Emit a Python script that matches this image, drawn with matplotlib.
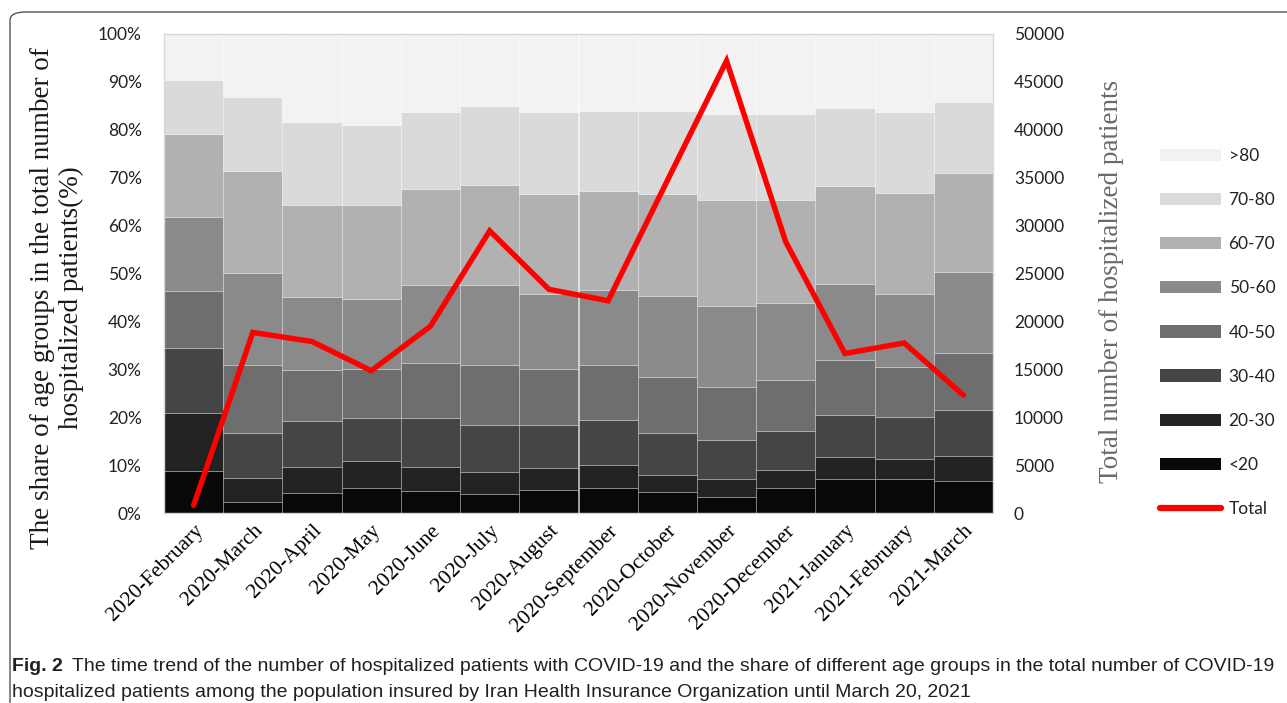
import matplotlib
matplotlib.use("Agg")
import matplotlib.pyplot as plt
import numpy as np
from matplotlib.lines import Line2D
from matplotlib.patches import FancyBboxPatch, Patch

# Data
months = [
    "2020-February", "2020-March", "2020-April", "2020-May", "2020-June",
    "2020-July", "2020-August", "2020-September", "2020-October",
    "2020-November", "2020-December", "2021-January", "2021-February",
    "2021-March",
]
age_groups = ["<20", "20-30", "30-40", "40-50", "50-60", "60-70", "70-80", ">80"]

share_lt20 = [8.8, 2.4, 4.1, 5.3, 4.5, 4.0, 4.7, 5.3, 4.3, 3.4, 5.3, 7.0, 7.0, 6.7]
share_20_30 = [12.1, 4.9, 5.5, 5.6, 5.2, 4.6, 4.7, 4.8, 3.7, 3.6, 3.7, 4.6, 4.3, 5.1]
share_30_40 = [13.6, 9.5, 9.7, 9.0, 10.2, 9.8, 9.0, 9.3, 8.8, 8.2, 8.2, 8.8, 8.7, 9.6]
share_40_50 = [11.9, 14.0, 10.6, 10.2, 11.4, 12.6, 11.7, 11.6, 11.6, 11.1, 10.6, 11.5, 10.4, 12.1]
share_50_60 = [15.3, 19.3, 15.1, 14.5, 16.3, 16.6, 15.6, 15.6, 16.9, 17.0, 16.0, 15.9, 15.4, 16.8]
share_60_70 = [17.4, 21.4, 19.4, 19.6, 20.0, 20.9, 21.0, 20.6, 21.4, 22.0, 21.5, 20.5, 21.0, 20.7]
share_70_80 = [11.3, 15.3, 17.2, 16.9, 16.1, 16.4, 17.0, 16.7, 17.2, 18.1, 17.9, 16.3, 17.0, 14.7]
share_gt80 = [9.6, 13.2, 18.4, 18.9, 16.3, 15.1, 16.3, 16.1, 16.1, 16.6, 16.8, 15.4, 16.2, 14.3]

total_patients = [800, 18850, 17900, 14850, 19500, 29450, 23350, 22150,
                  34700, 47200, 28300, 16650, 17750, 12300]

shares = [share_lt20, share_20_30, share_30_40, share_40_50,
          share_50_60, share_60_70, share_70_80, share_gt80]
colors = ["#080808", "#222222", "#454545", "#6e6e6e",
          "#8a8a8a", "#b1b1b1", "#dadada", "#f2f2f2"]

SANS = "Lato"
SERIF = "Liberation Serif"
CAPTION_FONT = "Liberation Sans"

W, H = 1287, 703
fig = plt.figure(figsize=(W / 100, H / 100), dpi=100)
fig.patch.set_facecolor("white")

# plot area in pixels: x 164-993, y 34-513
ax = fig.add_axes([164 / W, 1 - 513 / H, 829 / W, 479 / H])

x = np.arange(len(months))
bottom = np.zeros(len(months))
for vals, col, lab in zip(shares, colors, age_groups):
    ax.bar(x, vals, width=1.0, bottom=bottom, color=col,
           edgecolor=(1, 1, 1, 0.28), linewidth=0.6, label=lab, zorder=2)
    bottom += np.array(vals)

ax.set_xlim(-0.5, len(months) - 0.5)
ax.set_ylim(0, 100)
ax.set_yticks(np.arange(0, 101, 10))
ax.set_yticklabels([f"{v}%" for v in range(0, 101, 10)])
ax.tick_params(axis="y", length=0, pad=16, labelsize=12.5, labelcolor="#222222")
for lab in ax.get_yticklabels():
    lab.set_fontfamily(SANS)
ax.set_xticks(x)
ax.set_xticklabels(months, rotation=45, ha="right", rotation_mode="anchor",
                   fontfamily=SERIF, fontsize=15.5)
ax.tick_params(axis="x", length=0, pad=6)
for s in ax.spines.values():
    s.set_color("#d9d9d9")
    s.set_linewidth(1)

ax2 = ax.twinx()
ax2.plot(x, total_patients, color="#ff0000", linewidth=3.9,
         solid_capstyle="round", solid_joinstyle="miter", zorder=5)
ax2.set_ylim(0, 50000)
ax2.set_yticks(np.arange(0, 50001, 5000))
ax2.tick_params(axis="y", length=0, pad=15, labelsize=12.5, labelcolor="#222222")
for lab in ax2.get_yticklabels():
    lab.set_fontfamily(SANS)
for s in ax2.spines.values():
    s.set_visible(False)

# axis titles
fig.text(57 / W, 1 - 298 / H,
         "The share of age groups in the total number of\nhospitalized patients(%)",
         rotation=90, ha="center", va="center", fontfamily=SERIF, fontsize=19.5,
         linespacing=1.25, color="#1a1a1a")
fig.text(1112 / W, 1 - 281 / H, "Total number of hospitalized patients",
         rotation=90, ha="center", va="center", fontfamily=SERIF, fontsize=19.5,
         color="#6a6a6a")

# legend
handles = [Patch(facecolor=c, edgecolor="none") for c in colors[::-1]]
handles.append(Line2D([0], [0], color="#ff0000", linewidth=4.5, solid_capstyle="round"))
labels = age_groups[::-1] + ["Total"]
leg = fig.legend(handles, labels, loc="upper left",
                 bbox_to_anchor=(1160 / W, 1 - 148 / H), frameon=False,
                 prop={"family": SANS, "size": 12.5}, handlelength=3.5,
                 handleheight=0.7, labelspacing=1.62, handletextpad=0.45,
                 borderpad=0, borderaxespad=0)
for t in leg.get_texts():
    t.set_color("#222222")

# caption
cap_size = 14.0
renderer = fig.canvas.get_renderer()
t1 = fig.text(12 / W, 1 - 671 / H, "Fig. 2", fontfamily=CAPTION_FONT,
              fontweight="bold", fontsize=cap_size, color="#231f20", va="baseline")
bb = t1.get_window_extent(renderer)
fig.text((bb.x1 + 9) / W, 1 - 671 / H,
         "The time trend of the number of hospitalized patients with COVID-19 and the share "
         "of different age groups in the total number of COVID-19",
         fontfamily=CAPTION_FONT, fontsize=cap_size, color="#231f20", va="baseline")
fig.text(12 / W, 1 - 697 / H,
         "hospitalized patients among the population insured by Iran Health Insurance "
         "Organization until March 20, 2021",
         fontfamily=CAPTION_FONT, fontsize=cap_size, color="#231f20", va="baseline")

# outer rounded frame
frame = FancyBboxPatch((10 / W, -0.05), 1.2, 1.05 - 12 / H,
                       boxstyle="round,pad=0,rounding_size=0.012",
                       transform=fig.transFigure, facecolor="none",
                       edgecolor="#555555", linewidth=1.0, clip_on=False)
fig.patches.append(frame)

fig.savefig("out.png", dpi=100)
